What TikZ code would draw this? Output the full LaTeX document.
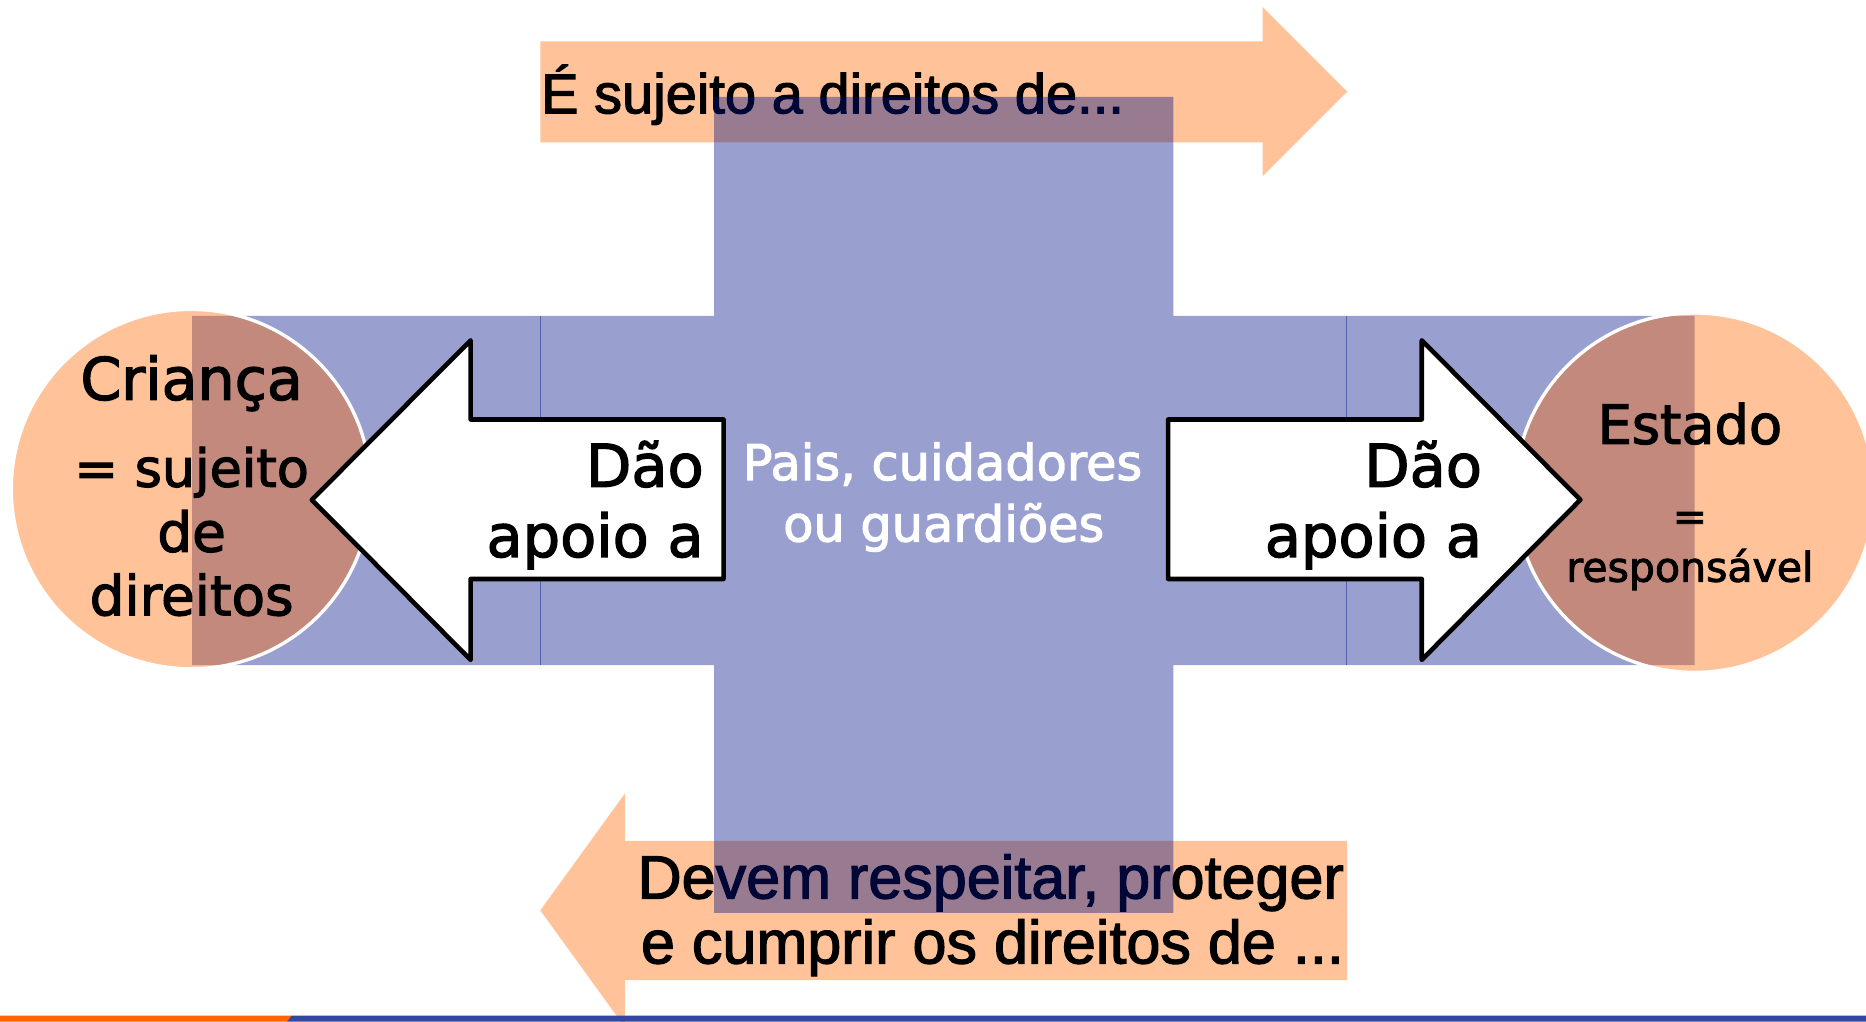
\documentclass[tikz,border=0pt]{standalone}
\usepackage{fontspec}
\setmainfont{DejaVu Sans}[FakeBold=2.2]
\newfontfamily\arialf{Liberation Sans}[FakeBold=2]
\definecolor{orng}{RGB}{255,102,0}
\definecolor{peach}{RGB}{255,194,153}
\definecolor{crossblue}{RGB}{0,17,135}
\definecolor{barblue}{RGB}{51,70,160}
\tikzset{
  band/.style={fill=peach},
  crossfill/.style={fill=crossblue, fill opacity=0.4},
  seam/.style={draw=crossblue, draw opacity=0.45, line width=0.35pt},
  circlefill/.style={fill=orng, fill opacity=0.4},
  circleedge/.style={draw=white, line width=0.8pt},
  whitearrow/.style={fill=white, draw=black, line width=1.1pt, line join=round},
  arialtop/.style={font=\arialf\fontsize{13.4}{16}\selectfont, inner sep=0pt, text=black},
  arialbot/.style={font=\arialf\fontsize{14.6}{17}\selectfont, inner sep=0pt, text=black},
  circtext/.style={font=\fontsize{13.1}{15.4}\selectfont, inner sep=0pt, anchor=base},
  statetext/.style={font=\fontsize{12.95}{15}\selectfont, inner sep=0pt, anchor=base},
  smalltext/.style={font=\fontsize{9.8}{12}\selectfont, inner sep=0pt, anchor=base},
  daotext/.style={font=\fontsize{14.1}{16.8}\selectfont, inner sep=0pt, anchor=base east},
  paistext/.style={font=\fontsize{11.8}{14.7}\selectfont, inner sep=0pt, anchor=base, text=white},
}
\begin{document}
\begin{tikzpicture}[x=0.01cm, y=-0.01cm]
\useasboundingbox (0,0) rectangle (1568,858);

% peach arrows
\path[band] (454,34.7) -- (1061,34.7) -- (1061,6) -- (1132,77) -- (1061,148)
  -- (1061,119.6) -- (454,119.6) -- cycle;
\path[band] (1132,706.5) -- (525,706.5) -- (525,667) -- (454,765) -- (525,863)
  -- (525,823.5) -- (1132,823.5) -- cycle;

\node[arialtop, anchor=base west] (top) at (454,95.2) {É sujeito a direitos de...};
\node[arialbot, anchor=base east] (bot1) at (1130,755) {Devem respeitar, proteger};
\node[arialbot, anchor=base east] (bot2) at (1130,809.6) {e cumprir os direitos de ...};

% translucent blue cross
\path[crossfill] (600,81.5) -- (986,81.5) -- (986,265.5) -- (1424,265.5)
  -- (1424,559) -- (986,559) -- (986,767) -- (600,767) -- (600,559)
  -- (161.5,559) -- (161.5,265.5) -- (600,265.5) -- cycle;
\coordinate (s1a) at (454,265.5);
\coordinate (s1b) at (454,559);
\coordinate (s2a) at (1131.5,265.5);
\coordinate (s2b) at (1131.5,559);
\draw[seam] (s1a) -- (s1b);
\draw[seam] (s2a) -- (s2b);

% circles
\coordinate (cl) at (160.5,411);
\coordinate (cr) at (1424,414);
\path[circlefill] (cl) circle (151);
\path[circlefill] (cr) circle (151);
\draw[circleedge] (cl) circle (151);
\draw[circleedge] (cr) circle (151);

% white arrows
\draw[whitearrow] (608,352.5) -- (395.5,352.5) -- (395.5,286) -- (262,420)
  -- (395.5,554.5) -- (395.5,486.5) -- (608,486.5) -- cycle;
\draw[whitearrow] (981.6,352.5) -- (1194.7,352.5) -- (1194.7,286) -- (1328,420)
  -- (1194.7,554.5) -- (1194.7,486.5) -- (981.6,486.5) -- cycle;

% texts
\node[circtext, font=\fontsize{14}{16}\selectfont] (c1) at (161,336) {Criança};
\node[circtext, font=\fontsize{12.5}{15}\selectfont] (c2) at (161,409) {= sujeito};
\node[circtext] (c3) at (161,463.6) {de};
\node[circtext] (c4) at (161,517) {direitos};

\node[statetext] (e1) at (1420,373) {Estado};
\node[smalltext] (e2) at (1420,446) {=};
\node[smalltext] (e3) at (1420,488.8) {responsável};

\node[daotext] (d1) at (592,409) {Dão};
\node[daotext] (d2) at (592,468) {apoio a};
\node[daotext] (d3) at (1246,409) {Dão};
\node[daotext] (d4) at (1246,468) {apoio a};

\node[paistext] (p1) at (792,403.4) {Pais, cuidadores};
\node[paistext] (p2) at (793,455) {ou guardiões};

% bottom bar
\fill[orng] (0,853.5) -- (245,853.5) -- (241,858.5) -- (0,858.5) -- cycle;
\fill[barblue] (245,853.5) -- (1568,853.5) -- (1568,858.5) -- (241,858.5) -- cycle;
\end{tikzpicture}
\end{document}
